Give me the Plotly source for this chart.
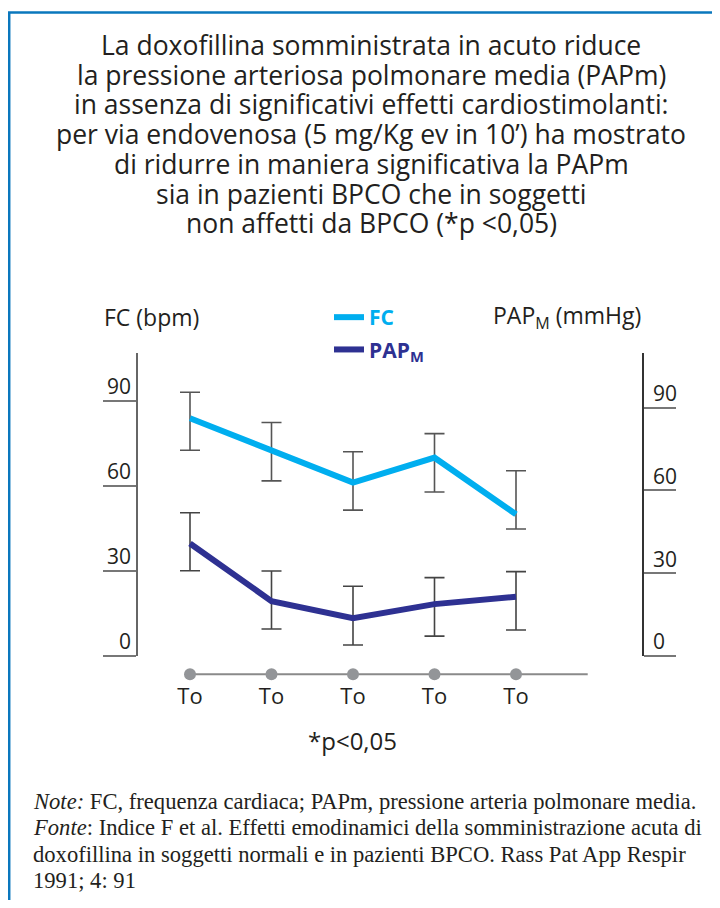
import plotly.graph_objects as go

# ---- data ----
time_labels = ["To", "To", "To", "To", "To"]
x_pos = [0, 1, 2, 3, 4]
fc_values = [83.9, 72.7, 61.2, 70.0, 50.0]
fc_high = [93.1, 82.4, 72.1, 78.5, 65.4]
fc_low = [72.6, 61.8, 51.5, 57.9, 44.8]
pap_values = [40.8, 19.9, 13.7, 18.8, 21.5]
pap_high = [51.9, 30.8, 25.3, 28.4, 30.6]
pap_low = [30.9, 9.8, 4.0, 7.2, 9.4]
tick_vals = [0, 30, 60, 90]
tick_text = ["0", "30", "60", "90"]

title_lines = [
    "La doxofillina somministrata in acuto riduce",
    "la pressione arteriosa polmonare media (PAPm)",
    "in assenza di significativi effetti cardiostimolanti:",
    "per via endovenosa (5 mg/Kg ev in 10’) ha mostrato",
    "di ridurre in maniera significativa la PAPm",
    "sia in pazienti BPCO che in soggetti",
    "non affetti da BPCO (*p <0,05)",
]
note_lines = [
    "<i>Note:</i> FC, frequenza cardiaca; PAPm, pressione arteria polmonare media.",
    "<i>Fonte</i>: Indice F et al. Effetti emodinamici della somministrazione acuta di",
    "doxofillina in soggetti normali e in pazienti BPCO. Rass Pat App Respir",
    "1991; 4: 91",
]

# page body has an 8px margin: size the figure so the page is exactly 720x908
OFF = 8
W, H = 720 - 2 * OFF, 908 - 2 * OFF
FC_COLOR = "#00aeef"
PAP_COLOR = "#2e3192"
SANS = "Open Sans"
TXT = "#231f20"


def px(x):
    return (x - OFF) / W


def py(y):
    return 1 - (y - OFF) / H


fig = go.Figure()

fig.add_trace(go.Scatter(
    x=x_pos, y=fc_values, mode="lines", yaxis="y",
    name="<b><span style='color:%s'>FC</span></b>" % FC_COLOR,
    line=dict(color=FC_COLOR, width=6),
    error_y=dict(type="data", symmetric=False,
                 array=[h - v for h, v in zip(fc_high, fc_values)],
                 arrayminus=[v - l for l, v in zip(fc_low, fc_values)],
                 color="#555555", thickness=1.6, width=10),
    legendgroup="a",
))
fig.add_trace(go.Scatter(
    x=x_pos, y=pap_values, mode="lines", yaxis="y2",
    name="<b><span style='color:%s'>PAP<sub>M</sub></span></b>" % PAP_COLOR,
    line=dict(color=PAP_COLOR, width=6),
    error_y=dict(type="data", symmetric=False,
                 array=[h - v for h, v in zip(pap_high, pap_values)],
                 arrayminus=[v - l for l, v in zip(pap_low, pap_values)],
                 color="#444444", thickness=1.6, width=10),
    legendgroup="b",
))
# time points on the baseline
fig.add_trace(go.Scatter(
    x=x_pos, y=[0] * len(x_pos), mode="markers", yaxis="y3",
    marker=dict(color="#939598", size=12), showlegend=False, cliponaxis=False,
))

x0_px, x_step = 190.0, 81.5
x_left, x_right = 138.0, 642.0
xr = [-(x0_px - x_left) / x_step, 4 + (x_right - (x0_px + 4 * x_step)) / x_step]

y_top, y_bot = 353.0, 656.0
dom = [py(y_bot), py(y_top)]
r1 = (y_bot - y_top) / ((y_bot - 401.0) / 90)
r2 = (y_bot - y_top) / ((y_bot - 407.7) / 90)

fig.update_layout(
    width=W, height=H,
    margin=dict(l=0, r=0, t=0, b=0),
    paper_bgcolor="white", plot_bgcolor="rgba(0,0,0,0)",
    font=dict(family=SANS, color=TXT),
    xaxis=dict(domain=[px(x_left), px(x_right)], range=xr, anchor="free",
               position=py(674.3), showgrid=False, zeroline=False, showline=False,
               tickvals=x_pos, ticktext=time_labels, ticks="",
               tickfont=dict(size=22, color=TXT), ticklabelstandoff=7),
    yaxis=dict(domain=dom, range=[0, r1], showgrid=False, zeroline=False,
               showline=True, linecolor="#666666", linewidth=1.5,
               ticks="outside", ticklen=33, tickwidth=1.5, tickcolor="#777777",
               tickvals=tick_vals, ticktext=tick_text,
               tickfont=dict(size=21, color=TXT),
               ticklabelstandoff=-32, ticklabelshift=-14),
    yaxis2=dict(range=[0, r2], overlaying="y", side="right", anchor="x",
                showgrid=False, zeroline=False,
                showline=True, linecolor="#333333", linewidth=1.5,
                ticks="outside", ticklen=32, tickwidth=1.5, tickcolor="#777777",
                tickvals=tick_vals, ticktext=tick_text,
                tickfont=dict(size=21, color=TXT),
                ticklabelstandoff=-27, ticklabelshift=-14),
    yaxis3=dict(domain=[py(684.3), py(664.3)], range=[-1, 1], visible=False,
                anchor="x"),
    legend=dict(x=px(329), y=py(297), xanchor="left", yanchor="top",
                font=dict(size=21, family=SANS), bgcolor="rgba(0,0,0,0)",
                tracegroupgap=2, itemwidth=30),
    showlegend=True,
)

# baseline through the time points
fig.add_shape(type="line", xref="x", yref="y3", x0=x_pos[0], x1=x_pos[-1] + 0.88,
              y0=0, y1=0, line=dict(color="#8a8a8a", width=2), layer="below")

# frame
fig.add_shape(type="line", xref="paper", yref="paper", x0=px(8), x1=1.0,
              y0=py(12.5), y1=py(12.5), line=dict(color="#0a77bd", width=2.5))
fig.add_shape(type="line", xref="paper", yref="paper", x0=px(9.2), x1=px(9.2),
              y0=py(12), y1=0, line=dict(color="#0a77bd", width=2.5))

for i, line in enumerate(title_lines):
    fig.add_annotation(text=line, xref="paper", yref="paper",
                       x=px(371), y=py(45 + 29.7 * i), xanchor="center",
                       yanchor="middle", showarrow=False, borderpad=0,
                       font=dict(size=26.5, family=SANS, color=TXT))
fig.add_annotation(text="FC (bpm)", xref="paper", yref="paper",
                   x=px(102), y=py(317), xanchor="left", yanchor="middle",
                   showarrow=False, font=dict(size=23, family=SANS, color=TXT))
fig.add_annotation(text="PAP<sub>M</sub> (mmHg)", xref="paper", yref="paper",
                   x=px(491), y=py(317), xanchor="left", yanchor="middle",
                   showarrow=False, font=dict(size=23, family=SANS, color=TXT))
fig.add_annotation(text="*p<0,05", xref="paper", yref="paper",
                   x=px(352), y=py(740), xanchor="center", yanchor="middle",
                   showarrow=False, font=dict(size=24, family=SANS, color=TXT))
for i, line in enumerate(note_lines):
    fig.add_annotation(text=line, xref="paper", yref="paper",
                       x=px(32), y=py(801 + 26.5 * i), xanchor="left",
                       yanchor="middle", showarrow=False, align="left", borderpad=0,
                       font=dict(size=22.6, family="Liberation Serif", color=TXT))

fig.write_html("out.html")
